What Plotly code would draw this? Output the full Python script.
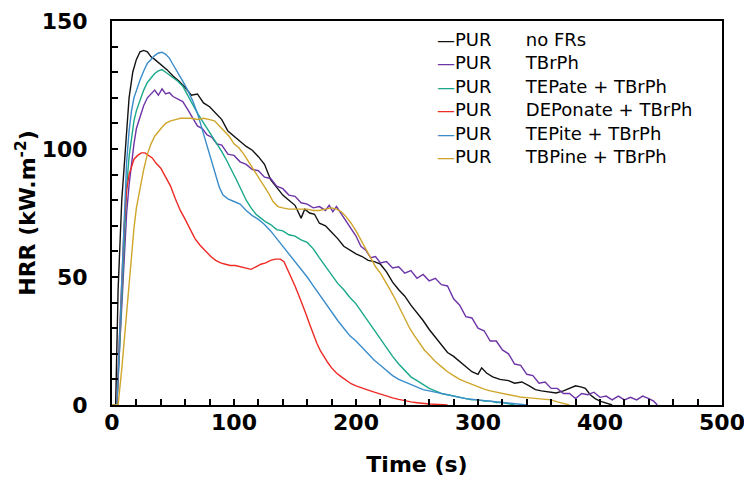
import plotly.graph_objects as go

# ---------------- data ----------------
labels = ["PUR", "PUR", "PUR", "PUR", "PUR", "PUR"]
variants = ["no FRs", "TBrPh", "TEPate + TBrPh", "DEPonate + TBrPh",
            "TEPite + TBrPh", "TBPine + TBrPh"]
colors = ["#111111", "#6E35A8", "#1AA88A", "#EE2A24", "#3A8CCB", "#CFA52A"]

black_t = [0, 3, 5, 8, 11, 14, 17, 20, 23, 26, 29, 32, 35, 40, 45, 50, 55, 60, 65, 70, 75, 80, 85,
           90, 95, 100, 105, 110, 115, 120, 125, 130, 135, 140, 145, 150, 155, 158, 162, 166, 170,
           175, 180, 185, 190, 195, 200, 205, 210, 215, 220, 225, 230, 235, 240, 245, 250, 255, 260,
           265, 270, 275, 280, 285, 290, 295, 300, 303, 307, 312, 318, 325, 330, 336, 342, 347, 352,
           358, 364, 370, 375, 380, 385, 388, 392, 396, 400, 405, 410]
black_hrr = [0, 0, 45, 80, 100, 120, 130, 135, 138, 138.5, 138, 136, 135, 133, 131, 128.5, 126.5,
             124, 121, 121.5, 118, 116.5, 114, 111.5, 107, 105, 103, 101, 99.5, 97, 94, 88, 85, 82,
             80, 78, 73, 76.5, 75, 74.5, 71, 70, 67.5, 65, 62, 60.5, 59, 58, 56.5, 56, 55, 52, 48,
             45, 42.5, 39, 36, 33, 29.5, 26.5, 23.5, 20.5, 19, 17, 15, 13, 12, 14.5, 12.5, 11, 10,
             9.5, 8.5, 9, 7.5, 6, 5.5, 5, 4.7, 5.5, 6.5, 7.5, 7, 6.5, 4, 2.5, 1.5, 0.8, 0]

purple_t = [0, 4, 6, 8, 10, 12, 14, 16, 18, 20, 23, 26, 29, 32, 35, 38, 41, 44, 47, 50, 54, 58, 62,
            66, 70, 74, 78, 82, 86, 90, 95, 100, 105, 110, 115, 120, 125, 130, 135, 140, 145, 150,
            155, 160, 165, 170, 175, 178, 181, 184, 188, 192, 196, 200, 204, 208, 212, 216, 220,
            225, 230, 235, 240, 245, 250, 255, 260, 265, 270, 275, 280, 285, 290, 295, 300, 305,
            310, 315, 320, 325, 330, 335, 340, 345, 350, 355, 360, 365, 370, 375, 380, 385, 390,
            395, 400, 405, 410, 415, 420, 425, 430, 435, 440, 444, 447]
purple_hrr = [0, 0, 20, 40, 58, 75, 86, 95, 102, 108, 113, 117, 120, 121.5, 123, 121, 123.5, 121.5,
              122, 120.5, 119.5, 118.5, 115.5, 112.5, 109, 108, 105.5, 104.5, 102, 101.5, 98, 97.5,
              95, 94, 92, 91.5, 89, 88.5, 85.5, 84.5, 82, 81.5, 79, 78.5, 77, 77.5, 76, 78, 75.5,
              77.5, 74.5, 72, 68.5, 66, 62, 60.5, 57.5, 58, 55.5, 56, 53.5, 54, 51.5, 52.5, 49.5,
              51, 48.5, 49.5, 47, 46.5, 41.5, 39, 34.5, 34, 30, 29, 25, 25, 21.5, 20, 16, 15.5, 12,
              11.5, 8.5, 9, 6.5, 6.5, 4.5, 4.5, 2.5, 4.5, 4, 5, 3, 3.5, 2, 3.5, 2, 3, 2, 3.5, 2.5,
              1.5, 0]

green_t = [0, 4, 6, 8, 10, 12, 14, 16, 18, 20, 23, 26, 29, 32, 35, 38, 41, 44, 47, 50, 54, 58, 62,
           66, 70, 74, 78, 82, 86, 90, 94, 98, 102, 106, 110, 114, 118, 122, 126, 130, 135, 140,
           145, 150, 155, 160, 165, 170, 175, 180, 185, 190, 195, 200, 205, 210, 215, 220, 225,
           230, 235, 240, 245, 250, 255, 260, 265, 270, 275, 280, 285, 290, 295, 300, 305, 310,
           315, 320, 325, 330]
green_hrr = [0, 0, 20, 42, 65, 85, 97, 105, 111, 115, 119, 123, 126, 128, 129.5, 130.5, 131, 130,
             129, 128, 126.5, 124.5, 121, 117, 114, 111, 108, 105, 102.5, 99, 95.5, 92, 88, 84, 80,
             77, 74.5, 73, 71.5, 70.5, 68.5, 68, 66.5, 66, 64.5, 63.5, 61, 57.5, 54, 50.5, 47.5,
             45, 42, 39.5, 36, 32.5, 29, 26, 22, 19, 16, 13.5, 11, 9.5, 8, 6.5, 5.5, 4.5, 4, 3.5,
             3, 2.5, 2, 2, 1.5, 1.5, 1, 1, 0.5, 0]

red_t = [0, 4, 6, 8, 10, 12, 14, 16, 18, 21, 24, 27, 30, 33, 36, 40, 44, 48, 52, 56, 60, 64, 68,
         72, 77, 81, 85, 89, 93, 97, 101, 105, 110, 114, 118, 122, 126, 130, 134, 138, 141, 144,
         147, 150, 153, 156, 159, 162, 165, 168, 171, 174, 177, 180, 184, 188, 192, 196, 200, 205,
         210, 215, 220, 225, 230, 235, 240, 245, 250, 255, 260, 268, 275]
red_hrr = [0, 0, 25, 48, 70, 84, 90, 93, 96, 97.5, 98.5, 98.5, 97.5, 96.5, 94.5, 92.5, 89, 85.5,
           80.5, 76, 72.5, 68.5, 65, 62.5, 60, 58, 56.5, 55.5, 55, 54.5, 54.5, 54, 53.5, 53, 54,
           55, 55.5, 56.5, 57, 57, 56, 53, 50, 46.5, 43, 39.5, 35.5, 31.5, 27.5, 24, 21, 18.5,
           16.5, 14.5, 12.5, 11, 9.5, 8.3, 7.5, 6.5, 5.8, 5, 4.2, 3.5, 2.8, 2.2, 1.6, 1.2, 0.9,
           0.6, 0.4, 0.2, 0]

blue_t = [0, 4, 6, 8, 10, 12, 14, 16, 18, 20, 23, 26, 29, 32, 35, 38, 41, 44, 47, 50, 54, 58, 62,
          66, 70, 73, 76, 79, 82, 85, 88, 91, 95, 100, 105, 110, 115, 120, 125, 130, 135, 140, 145,
          150, 155, 160, 165, 170, 175, 180, 185, 190, 195, 200, 205, 210, 215, 220, 225, 230, 235,
          240, 245, 250, 255, 260, 265, 270, 275, 280, 290, 300, 310, 320, 330, 340]
blue_hrr = [0, 0, 25, 50, 75, 95, 107, 115, 120, 123, 127, 130.5, 133.5, 135, 136.5, 137.5, 137.8,
            137, 135.5, 133, 130, 126.5, 123, 119, 114, 109, 104, 99, 94, 89, 85, 82, 80.5, 79.5,
            78.5, 76, 74, 72.5, 70.5, 68, 65, 62, 59, 56, 53, 50, 46.5, 43, 39.5, 36, 33, 30, 27,
            25, 22.5, 20, 17.5, 15.5, 13.5, 11.5, 10, 9, 8, 7, 6, 5.5, 5, 4.5, 4, 3.5, 2.5, 2, 1.5,
            1, 0.5, 0]

gold_t = [0, 5, 8, 10, 12, 14, 16, 18, 20, 23, 26, 29, 32, 35, 38, 41, 44, 48, 52, 56, 60, 65, 70,
          75, 80, 84, 88, 92, 96, 100, 104, 108, 112, 116, 120, 124, 128, 132, 136, 140, 145, 150,
          155, 160, 165, 170, 175, 180, 184, 188, 192, 196, 200, 204, 208, 212, 216, 220, 224, 228,
          232, 236, 240, 244, 248, 252, 256, 260, 265, 270, 275, 280, 285, 290, 295, 300, 305, 310,
          315, 320, 325, 330, 336, 342, 348, 354, 360, 365, 370, 375]
gold_hrr = [0, 0, 14, 25, 38, 50, 60, 69, 77, 85, 92, 98, 102, 105, 107, 108.5, 110, 111, 111.5,
            112, 112, 112, 111.5, 112, 111.5, 111, 109, 107, 105, 102, 100.5, 98, 95, 92.5, 89, 86,
            83, 79.5, 77.5, 77, 76.5, 76.5, 76.5, 76.5, 76, 76, 76.5, 77, 76.5, 75.5, 73.5, 71, 68,
            64.5, 60.5, 57, 54, 51.5, 48.5, 45, 41.5, 37.5, 33.5, 30, 27, 24, 21.5, 19.5, 17, 15,
            13, 11.5, 10, 9, 8, 7, 6.2, 5.5, 5, 4.6, 4, 3.5, 3, 2.8, 2.6, 2.4, 2, 1.2, 0.5, 0]

series_t = [black_t, purple_t, green_t, red_t, blue_t, gold_t]
series_hrr = [black_hrr, purple_hrr, green_hrr, red_hrr, blue_hrr, gold_hrr]

x_ticks = [0, 100, 200, 300, 400, 500]
y_ticks = [0, 50, 100, 150]

# ---------------- figure ----------------
fig = go.Figure()
names = [f"{a}   {b}" for a, b in zip(labels, variants)]
for name, col, t, h in zip(names, colors, series_t, series_hrr):
    fig.add_trace(go.Scatter(x=t, y=h, mode="lines", name=name, showlegend=False,
                             line=dict(color=col, width=1.4)))

bold_font = dict(family="DejaVu Sans, sans-serif", size=22, color="black", weight="bold")

fig.update_xaxes(range=[0, 500], tickvals=x_ticks, ticks="inside", ticklen=6, tickwidth=1.5,
                 tickcolor="black", minor=dict(dtick=20, ticks="inside", ticklen=6, tickwidth=1.5,
                                               tickcolor="black"),
                 showline=True, linecolor="black", linewidth=2, mirror=True, showgrid=False,
                 zeroline=False, tickfont=bold_font, ticklabelstandoff=-3,
                 title=dict(text="Time (s)", font=bold_font, standoff=22))
fig.update_yaxes(range=[0, 150], tickvals=y_ticks, ticks="inside", ticklen=6, tickwidth=1.5,
                 tickcolor="black", minor=dict(dtick=10, ticks="inside", ticklen=6, tickwidth=1.5,
                                               tickcolor="black"),
                 showline=True, linecolor="black", linewidth=2, mirror=True, showgrid=False,
                 zeroline=False, tickfont=bold_font, ticklabelstandoff=18,
                 title=dict(text="HRR (kW.m<sup>-2</sup>)", font=bold_font, standoff=0))

# legend drawn as text: coloured dash + label, one line per series
nb = "\u00a0"
legend_lines = [f'<span style="color:{c}">\u2014</span>{a}{nb * 6}{b}'
                for c, a, b in zip(colors, labels, variants)]
fig.add_annotation(xref="paper", yref="paper", x=0.53, y=0.985, xanchor="left", yanchor="top",
                   align="left", showarrow=False, text="<br>".join(legend_lines),
                   font=dict(family="DejaVu Sans, sans-serif", size=18, color="black"))

# page body has an 8px margin: figure size/margins compensate so the plot box sits where the reference's does
fig.update_layout(
    width=744, height=482,
    margin=dict(l=104, r=30, t=13, b=85, autoexpand=False),
    paper_bgcolor="white", plot_bgcolor="white",
)

fig.write_html("out.html")
